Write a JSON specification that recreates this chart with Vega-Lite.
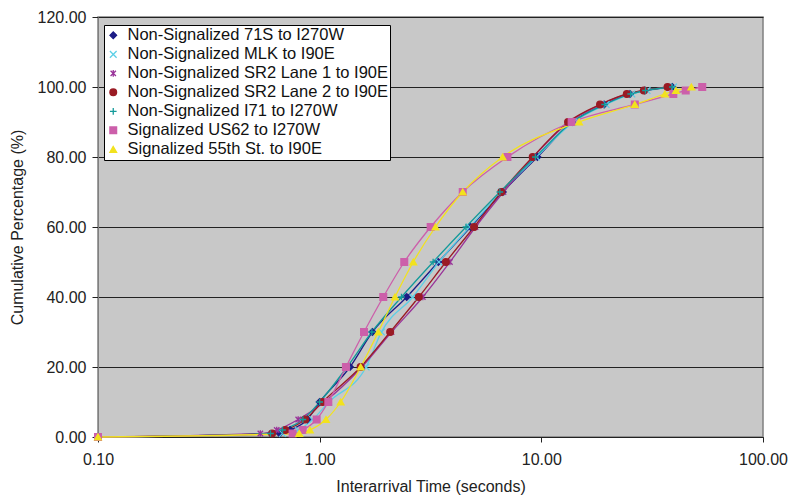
{
  "$schema": "https://vega.github.io/schema/vega-lite/v6.json",
  "width": 665,
  "height": 420,
  "autosize": "none",
  "padding": {"left": 98, "top": 17, "right": 25, "bottom": 58},
  "background": "white",
  "config": {
    "font": "Liberation Sans",
    "view": {"fill": "#C8C8C8", "stroke": "#808080", "strokeWidth": 1.5},
    "axis": {"labelFont": "Liberation Sans", "titleFont": "Liberation Sans", "labelFontSize": 16, "titleFontSize": 16, "titleFontWeight": "normal", "labelColor": "#222", "titleColor": "#222", "tickColor": "#222", "domainColor": "#808080"}
  },
  "data": {"values": [
    {"series": "Non-Signalized 71S to I270W", "time": 0.1, "pct": 0},
    {"series": "Non-Signalized 71S to I270W", "time": 0.66, "pct": 1},
    {"series": "Non-Signalized 71S to I270W", "time": 0.735, "pct": 2},
    {"series": "Non-Signalized 71S to I270W", "time": 0.88, "pct": 5},
    {"series": "Non-Signalized 71S to I270W", "time": 1.0, "pct": 10},
    {"series": "Non-Signalized 71S to I270W", "time": 1.37, "pct": 20},
    {"series": "Non-Signalized 71S to I270W", "time": 1.73, "pct": 30},
    {"series": "Non-Signalized 71S to I270W", "time": 2.47, "pct": 40},
    {"series": "Non-Signalized 71S to I270W", "time": 3.43, "pct": 50},
    {"series": "Non-Signalized 71S to I270W", "time": 4.8, "pct": 60},
    {"series": "Non-Signalized 71S to I270W", "time": 6.7, "pct": 70},
    {"series": "Non-Signalized 71S to I270W", "time": 9.6, "pct": 80},
    {"series": "Non-Signalized 71S to I270W", "time": 13.8, "pct": 90},
    {"series": "Non-Signalized 71S to I270W", "time": 19.2, "pct": 95},
    {"series": "Non-Signalized 71S to I270W", "time": 25.1, "pct": 98},
    {"series": "Non-Signalized 71S to I270W", "time": 29.3, "pct": 99},
    {"series": "Non-Signalized 71S to I270W", "time": 39.0, "pct": 100},
    {"series": "Non-Signalized MLK to I90E", "time": 0.1, "pct": 0},
    {"series": "Non-Signalized MLK to I90E", "time": 0.68, "pct": 1},
    {"series": "Non-Signalized MLK to I90E", "time": 0.8, "pct": 2},
    {"series": "Non-Signalized MLK to I90E", "time": 0.93, "pct": 5},
    {"series": "Non-Signalized MLK to I90E", "time": 1.1, "pct": 10},
    {"series": "Non-Signalized MLK to I90E", "time": 1.62, "pct": 20},
    {"series": "Non-Signalized MLK to I90E", "time": 1.9, "pct": 30},
    {"series": "Non-Signalized MLK to I90E", "time": 2.63, "pct": 40},
    {"series": "Non-Signalized MLK to I90E", "time": 3.45, "pct": 50},
    {"series": "Non-Signalized MLK to I90E", "time": 4.75, "pct": 60},
    {"series": "Non-Signalized MLK to I90E", "time": 6.6, "pct": 70},
    {"series": "Non-Signalized MLK to I90E", "time": 9.5, "pct": 80},
    {"series": "Non-Signalized MLK to I90E", "time": 14.0, "pct": 90},
    {"series": "Non-Signalized MLK to I90E", "time": 19.6, "pct": 95},
    {"series": "Non-Signalized MLK to I90E", "time": 25.6, "pct": 98},
    {"series": "Non-Signalized MLK to I90E", "time": 30.0, "pct": 99},
    {"series": "Non-Signalized MLK to I90E", "time": 39.5, "pct": 100},
    {"series": "Non-Signalized SR2 Lane 1 to I90E", "time": 0.1, "pct": 0},
    {"series": "Non-Signalized SR2 Lane 1 to I90E", "time": 0.54, "pct": 1},
    {"series": "Non-Signalized SR2 Lane 1 to I90E", "time": 0.64, "pct": 2},
    {"series": "Non-Signalized SR2 Lane 1 to I90E", "time": 0.8, "pct": 5},
    {"series": "Non-Signalized SR2 Lane 1 to I90E", "time": 1.05, "pct": 10},
    {"series": "Non-Signalized SR2 Lane 1 to I90E", "time": 1.55, "pct": 20},
    {"series": "Non-Signalized SR2 Lane 1 to I90E", "time": 2.11, "pct": 30},
    {"series": "Non-Signalized SR2 Lane 1 to I90E", "time": 2.92, "pct": 40},
    {"series": "Non-Signalized SR2 Lane 1 to I90E", "time": 3.87, "pct": 50},
    {"series": "Non-Signalized SR2 Lane 1 to I90E", "time": 5.05, "pct": 60},
    {"series": "Non-Signalized SR2 Lane 1 to I90E", "time": 6.75, "pct": 70},
    {"series": "Non-Signalized SR2 Lane 1 to I90E", "time": 9.2, "pct": 80},
    {"series": "Non-Signalized SR2 Lane 1 to I90E", "time": 13.4, "pct": 90},
    {"series": "Non-Signalized SR2 Lane 1 to I90E", "time": 18.6, "pct": 95},
    {"series": "Non-Signalized SR2 Lane 1 to I90E", "time": 24.5, "pct": 98},
    {"series": "Non-Signalized SR2 Lane 1 to I90E", "time": 29.2, "pct": 99},
    {"series": "Non-Signalized SR2 Lane 1 to I90E", "time": 37.5, "pct": 100},
    {"series": "Non-Signalized SR2 Lane 2 to I90E", "time": 0.1, "pct": 0},
    {"series": "Non-Signalized SR2 Lane 2 to I90E", "time": 0.61, "pct": 1},
    {"series": "Non-Signalized SR2 Lane 2 to I90E", "time": 0.7, "pct": 2},
    {"series": "Non-Signalized SR2 Lane 2 to I90E", "time": 0.86, "pct": 5},
    {"series": "Non-Signalized SR2 Lane 2 to I90E", "time": 1.03, "pct": 10},
    {"series": "Non-Signalized SR2 Lane 2 to I90E", "time": 1.53, "pct": 20},
    {"series": "Non-Signalized SR2 Lane 2 to I90E", "time": 2.08, "pct": 30},
    {"series": "Non-Signalized SR2 Lane 2 to I90E", "time": 2.8, "pct": 40},
    {"series": "Non-Signalized SR2 Lane 2 to I90E", "time": 3.71, "pct": 50},
    {"series": "Non-Signalized SR2 Lane 2 to I90E", "time": 4.97, "pct": 60},
    {"series": "Non-Signalized SR2 Lane 2 to I90E", "time": 6.6, "pct": 70},
    {"series": "Non-Signalized SR2 Lane 2 to I90E", "time": 9.14, "pct": 80},
    {"series": "Non-Signalized SR2 Lane 2 to I90E", "time": 13.2, "pct": 90},
    {"series": "Non-Signalized SR2 Lane 2 to I90E", "time": 18.4, "pct": 95},
    {"series": "Non-Signalized SR2 Lane 2 to I90E", "time": 24.3, "pct": 98},
    {"series": "Non-Signalized SR2 Lane 2 to I90E", "time": 29.0, "pct": 99},
    {"series": "Non-Signalized SR2 Lane 2 to I90E", "time": 37.1, "pct": 100},
    {"series": "Non-Signalized I71 to I270W", "time": 0.1, "pct": 0},
    {"series": "Non-Signalized I71 to I270W", "time": 0.6, "pct": 1},
    {"series": "Non-Signalized I71 to I270W", "time": 0.68, "pct": 2},
    {"series": "Non-Signalized I71 to I270W", "time": 0.84, "pct": 5},
    {"series": "Non-Signalized I71 to I270W", "time": 1.0, "pct": 10},
    {"series": "Non-Signalized I71 to I270W", "time": 1.33, "pct": 20},
    {"series": "Non-Signalized I71 to I270W", "time": 1.72, "pct": 30},
    {"series": "Non-Signalized I71 to I270W", "time": 2.34, "pct": 40},
    {"series": "Non-Signalized I71 to I270W", "time": 3.25, "pct": 50},
    {"series": "Non-Signalized I71 to I270W", "time": 4.57, "pct": 60},
    {"series": "Non-Signalized I71 to I270W", "time": 6.5, "pct": 70},
    {"series": "Non-Signalized I71 to I270W", "time": 9.4, "pct": 80},
    {"series": "Non-Signalized I71 to I270W", "time": 13.8, "pct": 90},
    {"series": "Non-Signalized I71 to I270W", "time": 19.3, "pct": 95},
    {"series": "Non-Signalized I71 to I270W", "time": 25.3, "pct": 98},
    {"series": "Non-Signalized I71 to I270W", "time": 29.5, "pct": 99},
    {"series": "Non-Signalized I71 to I270W", "time": 39.0, "pct": 100},
    {"series": "Signalized US62 to I270W", "time": 0.1, "pct": 0},
    {"series": "Signalized US62 to I270W", "time": 0.755, "pct": 1},
    {"series": "Signalized US62 to I270W", "time": 0.838, "pct": 2},
    {"series": "Signalized US62 to I270W", "time": 0.969, "pct": 5},
    {"series": "Signalized US62 to I270W", "time": 1.094, "pct": 10},
    {"series": "Signalized US62 to I270W", "time": 1.314, "pct": 20},
    {"series": "Signalized US62 to I270W", "time": 1.585, "pct": 30},
    {"series": "Signalized US62 to I270W", "time": 1.936, "pct": 40},
    {"series": "Signalized US62 to I270W", "time": 2.408, "pct": 50},
    {"series": "Signalized US62 to I270W", "time": 3.168, "pct": 60},
    {"series": "Signalized US62 to I270W", "time": 4.42, "pct": 70},
    {"series": "Signalized US62 to I270W", "time": 7.03, "pct": 80},
    {"series": "Signalized US62 to I270W", "time": 13.7, "pct": 90},
    {"series": "Signalized US62 to I270W", "time": 26.4, "pct": 95},
    {"series": "Signalized US62 to I270W", "time": 39.4, "pct": 98},
    {"series": "Signalized US62 to I270W", "time": 44.8, "pct": 99},
    {"series": "Signalized US62 to I270W", "time": 53.2, "pct": 100},
    {"series": "Signalized 55th St. to I90E", "time": 0.1, "pct": 0},
    {"series": "Signalized 55th St. to I90E", "time": 0.809, "pct": 1},
    {"series": "Signalized 55th St. to I90E", "time": 0.904, "pct": 2},
    {"series": "Signalized 55th St. to I90E", "time": 1.068, "pct": 5},
    {"series": "Signalized 55th St. to I90E", "time": 1.244, "pct": 10},
    {"series": "Signalized 55th St. to I90E", "time": 1.531, "pct": 20},
    {"series": "Signalized 55th St. to I90E", "time": 1.838, "pct": 30},
    {"series": "Signalized 55th St. to I90E", "time": 2.186, "pct": 40},
    {"series": "Signalized 55th St. to I90E", "time": 2.644, "pct": 50},
    {"series": "Signalized 55th St. to I90E", "time": 3.329, "pct": 60},
    {"series": "Signalized 55th St. to I90E", "time": 4.42, "pct": 70},
    {"series": "Signalized 55th St. to I90E", "time": 6.69, "pct": 80},
    {"series": "Signalized 55th St. to I90E", "time": 14.8, "pct": 90},
    {"series": "Signalized 55th St. to I90E", "time": 26.4, "pct": 95},
    {"series": "Signalized 55th St. to I90E", "time": 36.1, "pct": 98},
    {"series": "Signalized 55th St. to I90E", "time": 40.5, "pct": 99},
    {"series": "Signalized 55th St. to I90E", "time": 47.5, "pct": 100}
  ]},
  "encoding": {
    "x": {
      "field": "time", "type": "quantitative",
      "scale": {"type": "log", "domain": [0.1, 100]},
      "axis": {"values": [0.1, 1, 10, 100], "format": ".2f", "title": "Interarrival Time (seconds)", "grid": false, "tickSize": 5, "labelPadding": 9, "titlePadding": 11, "domainColor": "#222", "labelFlush": false}
    },
    "y": {
      "field": "pct", "type": "quantitative",
      "scale": {"domain": [0, 120], "nice": false},
      "axis": {"values": [0, 20, 40, 60, 80, 100, 120], "format": ".2f", "title": "Cumulative Percentage (%)", "grid": true,
        "gridColor": "#222222",
        "gridWidth": 1.2, "tickSize": 6, "labelPadding": 6, "titlePadding": 12}
    },
    "color": {
      "field": "series", "type": "nominal",
      "scale": {
        "domain": ["Non-Signalized 71S to I270W", "Non-Signalized MLK to I90E", "Non-Signalized SR2 Lane 1 to I90E", "Non-Signalized SR2 Lane 2 to I90E", "Non-Signalized I71 to I270W", "Signalized US62 to I270W", "Signalized 55th St. to I90E"],
        "range": ["#1C1C86", "#5CCFE6", "#993399", "#9A1B24", "#139A9A", "#CC5FAA", "#F2E21E"]
      },
      "legend": {
        "title": null, "orient": "none", "legendX": 6, "legendY": 8,
        "fillColor": "white", "strokeColor": "#000000",
        "padding": 1, "labelFontSize": 16.5, "labelFont": "Liberation Sans", "labelColor": "#111", "labelLimit": 500,
        "clipHeight": 18.7, "rowPadding": 0, "labelOffset": 6, "symbolStrokeWidth": 1.3
      }
    }
  },
  "layer": [
    {"mark": {"type": "line", "interpolate": "monotone", "strokeWidth": 1.3}, "encoding": {}},
    {
      "mark": {"type": "point", "filled": true, "opacity": 1, "strokeWidth": 1.3},
      "encoding": {
        "shape": {"field": "series", "type": "nominal", "legend": null,
          "scale": {
            "domain": ["Non-Signalized 71S to I270W", "Non-Signalized MLK to I90E", "Non-Signalized SR2 Lane 1 to I90E", "Non-Signalized SR2 Lane 2 to I90E", "Non-Signalized I71 to I270W", "Signalized US62 to I270W", "Signalized 55th St. to I90E"],
            "range": ["diamond", "M-1,-1L1,1M-1,1L1,-1", "M-0.8,-0.8L0.8,0.8M-0.8,0.8L0.8,-0.8M0,-1V1", "circle", "M-1,0H1M0,-1V1", "square", "triangle-up"]
          }},
        "size": {"field": "series", "type": "nominal", "legend": null,
          "scale": {
            "domain": ["Non-Signalized 71S to I270W", "Non-Signalized MLK to I90E", "Non-Signalized SR2 Lane 1 to I90E", "Non-Signalized SR2 Lane 2 to I90E", "Non-Signalized I71 to I270W", "Signalized US62 to I270W", "Signalized 55th St. to I90E"],
            "range": [45, 45, 45, 65, 50, 60, 60]
          }},
        "stroke": {"field": "series", "type": "nominal", "legend": null,
          "scale": {
            "domain": ["Non-Signalized 71S to I270W", "Non-Signalized MLK to I90E", "Non-Signalized SR2 Lane 1 to I90E", "Non-Signalized SR2 Lane 2 to I90E", "Non-Signalized I71 to I270W", "Signalized US62 to I270W", "Signalized 55th St. to I90E"],
            "range": ["#1C1C86", "#5CCFE6", "#993399", "#9A1B24", "#139A9A", "#CC5FAA", "#F2E21E"]
          }}
      }
    }
  ]
}
